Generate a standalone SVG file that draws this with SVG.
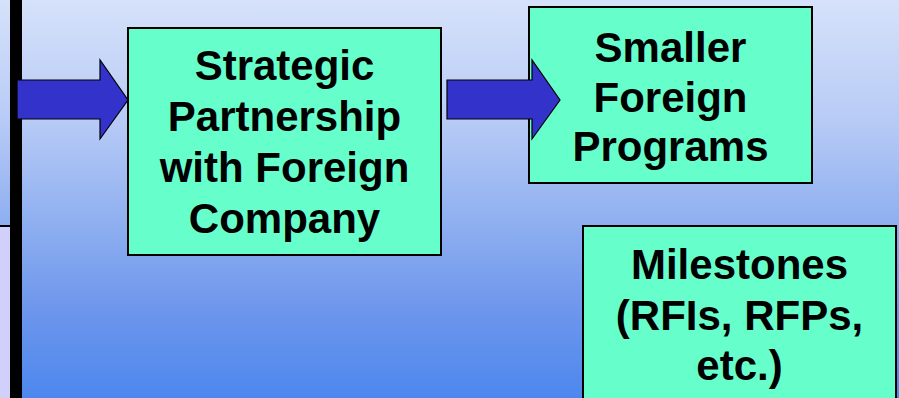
<svg xmlns="http://www.w3.org/2000/svg" width="899" height="398" viewBox="0 0 899 398">
<defs>
<linearGradient id="bg" x1="0" y1="0" x2="0" y2="1">
<stop offset="0" stop-color="#d6e2fa"/>
<stop offset="0.3" stop-color="#b8cbf6"/>
<stop offset="0.55" stop-color="#90b0f0"/>
<stop offset="0.78" stop-color="#6d96ec"/>
<stop offset="1" stop-color="#4d87ee"/>
</linearGradient>
<style>
.box{fill:#66ffcc;stroke:#000;stroke-width:2}
.arrow{fill:#3333cc;stroke:#000;stroke-width:1.2;stroke-linejoin:miter}
.lbl{font-family:"Liberation Sans",Arial,sans-serif;font-weight:bold;font-size:42px;fill:#000;text-anchor:middle}
</style>
</defs>
<rect x="0" y="0" width="899" height="398" fill="url(#bg)"/>
<rect x="0" y="227" width="10" height="171" fill="#d0d0fa"/>
<rect x="0" y="225" width="10" height="2" fill="#000"/>
<rect x="10" y="0" width="12" height="398" fill="#000"/>
<g id="node-partnership">
<rect class="box" x="128" y="28" width="313" height="227"/>
<text class="lbl" x="284.5" y="80">Strategic</text>
<text class="lbl" x="284.5" y="131">Partnership</text>
<text class="lbl" x="284.5" y="182">with Foreign</text>
<text class="lbl" x="284.5" y="233">Company</text>
</g>
<g id="node-smaller">
<rect class="box" x="529" y="7" width="283" height="176"/>
<text class="lbl" x="670.5" y="62">Smaller</text>
<text class="lbl" x="670.5" y="112">Foreign</text>
<text class="lbl" x="670.5" y="161">Programs</text>
</g>
<g id="node-milestones">
<rect class="box" x="583" y="226" width="313" height="180"/>
<text class="lbl" x="739.5" y="279">Milestones</text>
<text class="lbl" x="739.5" y="330">(RFIs, RFPs,</text>
<text class="lbl" x="739.5" y="380">etc.)</text>
</g>
<g id="connectors">
<path class="arrow" d="M17,80 H100 V60 L128,100 L100,139 V119 H17 Z"/>
<path class="arrow" d="M447,80 H532 V60 L560,100 L532,139 V119 H447 Z"/>
</g>
</svg>
